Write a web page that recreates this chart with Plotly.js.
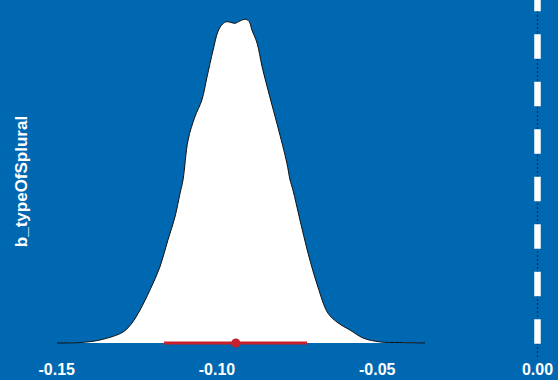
<!DOCTYPE html>
<html>
<head>
<meta charset="utf-8">
<script src="https://cdn.plot.ly/plotly-3.0.1.min.js"></script>
<style>html,body{margin:0;padding:0;background:#0067b1;}#chart{width:558px;height:380px;}</style>
</head>
<body>
<div id="chart"></div>
<script>
// Posterior density of b_typeOfSplural
const densityX = [-0.1499, -0.1427, -0.1365, -0.1293, -0.1265, -0.1240, -0.1209, -0.1178, -0.1153, -0.1131, -0.1115, -0.1106, -0.1090, -0.1069, -0.1047, -0.1031, -0.1012, -0.0997, -0.0983, -0.0969, -0.0956, -0.0944, -0.0928, -0.0912, -0.0900, -0.0891, -0.0875, -0.0859, -0.0835, -0.0810, -0.0782, -0.0772, -0.0763, -0.0741, -0.0716, -0.0685, -0.0654, -0.0622, -0.0585, -0.0544, -0.0491, -0.0429, -0.0351];
const densityY = [0, 0.04, 0.26, 0.95, 1.73, 2.85, 4.58, 6.57, 8.90, 10.89, 12.96, 14.09, 17.55, 19.53, 21.00, 22.99, 25.32, 26.90, 27.55, 27.77, 27.70, 27.63, 27.83, 27.98, 27.80, 27.05, 25.93, 23.85, 21.26, 18.67, 15.56, 14.09, 13.22, 10.63, 7.78, 4.84, 2.59, 1.73, 1.12, 0.43, 0.09, 0.04, 0];
const parameterName = "b_typeOfSplural";
const intervalLow = -0.1165;
const intervalHigh = -0.0719;
const pointEstimate = -0.0941;
const tickValues = [-0.15, -0.10, -0.05, 0.00];
const tickLabels = ["-0.15", "-0.10", "-0.05", "0.00"];
const referenceLine = 0;

const bg = '#0067b1';
const traces = [
  {
    x: densityX, y: densityY, type: 'scatter', mode: 'lines',
    line: {color: '#111111', width: 1, shape: 'spline', smoothing: 1},
    fill: 'tozeroy', fillcolor: '#ffffff', hoverinfo: 'skip'
  },
  {
    x: [intervalLow, intervalHigh], y: [0, 0], type: 'scatter', mode: 'lines',
    line: {color: '#c8202d', width: 3}, hoverinfo: 'skip'
  },
  {
    x: [pointEstimate], y: [0], type: 'scatter', mode: 'markers',
    marker: {color: '#c8202d', size: 9}, hoverinfo: 'skip'
  }
];

const layout = {
  width: 558, height: 380,
  margin: {l: 40, r: 0, t: 13, b: 30, pad: 0},
  paper_bgcolor: bg, plot_bgcolor: bg,
  showlegend: false,
  font: {family: 'Liberation Sans, Arial, sans-serif', color: '#ffffff', size: 16},
  xaxis: {
    range: [-0.15521, 0.0064],
    tickvals: tickValues, ticktext: tickLabels,
    tickfont: {size: 16, color: '#ffffff', weight: 'bold'},
    ticks: 'outside', ticklen: 5, tickcolor: 'rgba(0,0,0,0)',
    showgrid: false, zeroline: false, showline: false,
    automargin: false
  },
  yaxis: {
    range: [-0.605, 28.52],
    showticklabels: false, ticks: '', showgrid: false, zeroline: false, showline: false,
    title: {text: parameterName, font: {size: 17, color: '#ffffff', weight: 'bold'}, standoff: 7},
    automargin: false
  },
  shapes: [
    {type: 'line', xref: 'x', yref: 'paper', x0: referenceLine, x1: referenceLine, y0: 1.0297, y1: -0.0267,
     line: {color: '#02335f', width: 1.2, dash: '2px,2px'}, layer: 'below'},
    {type: 'line', xref: 'x', yref: 'paper', x0: referenceLine, x1: referenceLine, y0: 1.0777, y1: 0.0178,
     line: {color: '#ffffff', width: 6.5, dash: '24.5px,23px'}, layer: 'below'}
  ]
};

Plotly.newPlot('chart', traces, layout, {staticPlot: true, displayModeBar: false});
</script>
</body>
</html>
